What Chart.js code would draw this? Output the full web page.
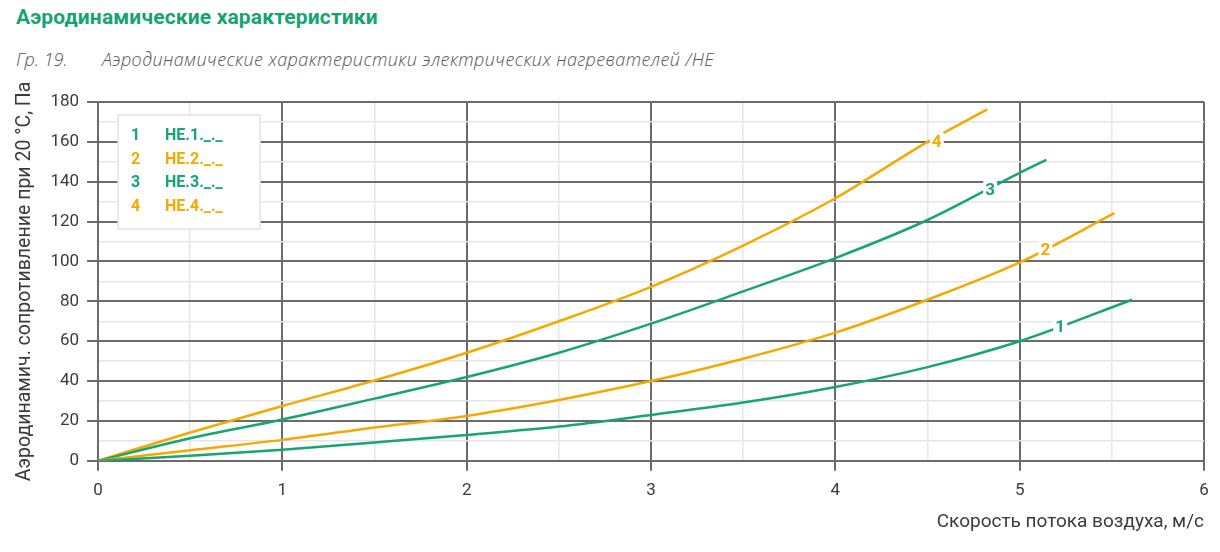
<!DOCTYPE html>
<html lang="ru">
<head>
  <meta charset="UTF-8">
  <title>Аэродинамические характеристики</title>
  <script src="https://cdn.jsdelivr.net/npm/chart.js"></script>
  <style>
    body {
      margin: 0;
      background: #ffffff;
      width: 1220px;
      height: 552px;
      position: relative;
      overflow: hidden;
      font-family: Roboto, "Noto Sans", sans-serif;
    }

    .titulo {
      position: absolute;
      left: 16px;
      top: 5px;
      font-size: 21px;
      font-weight: bold;
      letter-spacing: 0.15px;
      color: #17a372;
    }

    .subtitulo {
      position: absolute;
      top: 47px;
      font-family: "Open Sans", sans-serif;
      font-style: italic;
      font-weight: 300;
      font-size: 18px;
      color: #555555;
    }

    .grafico {
      position: absolute;
      left: 0;
      top: 0;
      width: 1220px;
      height: 552px;
    }
  </style>
</head>
<body>
  <div class="titulo">Аэродинамические характеристики</div>
  <div class="subtitulo" style="left: 16px;">Гр. 19.</div>
  <div class="subtitulo" style="left: 102px; letter-spacing: 0.4px;">Аэродинамические характеристики электрических нагревателей /HE</div>

  <div class="grafico">
    <canvas id="grafico"></canvas>
  </div>

  <script>
    // valores (velocidad m/s -> presión Pa)
    const xHE1 = [0, 0.5, 1, 1.5, 2, 2.5, 3, 3.5, 4, 4.5, 5, 5.61];
    const yHE1 = [0, 2.5, 5.5, 9.2, 13, 17.2, 23, 29.2, 37, 47, 60, 80.8];

    const xHE2 = [0, 0.5, 1, 1.5, 2, 2.5, 3, 3.5, 4, 4.5, 5, 5.514];
    const yHE2 = [0, 5.3, 10.5, 16.7, 22.5, 30.5, 40, 51.2, 64.3, 80.8, 99.5, 124.2];

    const xHE3 = [0, 0.5, 1, 1.5, 2, 2.5, 3, 3.5, 4, 4.5, 5, 5.145];
    const yHE3 = [0, 11.3, 20.7, 31.2, 42, 54.2, 68.8, 85, 101.7, 120.8, 144.5, 151];

    const xHE4 = [0, 0.5, 1, 1.5, 2, 2.5, 3, 3.5, 4, 4.5, 4.824];
    const yHE4 = [0, 14.2, 27.5, 40.3, 54.2, 70, 87.3, 108, 131.7, 160, 176.3];

    const numeros = ['1', '2', '3', '4'];
    const modelos = ['HE.1._._', 'HE.2._._', 'HE.3._._', 'HE.4._._'];
    const colores = ['#15a672', '#f5a900', '#15a672', '#f5a900'];

    // posición de las etiquetas sobre las curvas (m/s, Pa)
    const etiquetaX = [5.22, 5.14, 4.84, 4.55];
    const etiquetaY = [67.5, 105.8, 136.2, 160.3];

    const ejeYTitulo = 'Аэродинамич. сопротивление при 20 °C, Па';
    const ejeXTitulo = 'Скорость потока воздуха, м/с';

    function puntos(xs, ys) {
      return xs.map((x, i) => ({ x: x, y: ys[i] }));
    }

    const series = [puntos(xHE1, yHE1), puntos(xHE2, yHE2), puntos(xHE3, yHE3), puntos(xHE4, yHE4)];

    const colorTexto = '#3b3b3b';
    const colorMayor = '#6b6b6b';
    const colorMenor = '#e6e6e6';

    const etiquetasCurvas = {
      id: 'etiquetasCurvas',
      afterDatasetsDraw(chart) {
        const ctx = chart.ctx;
        const sx = chart.scales.x;
        const sy = chart.scales.y;
        ctx.save();
        ctx.font = 'bold 17px Roboto';
        ctx.textAlign = 'center';
        ctx.textBaseline = 'middle';
        for (let i = 0; i < numeros.length; i++) {
          const px = sx.getPixelForValue(etiquetaX[i]);
          const py = sy.getPixelForValue(etiquetaY[i]);
          ctx.fillStyle = '#ffffff';
          ctx.fillRect(px - 7, py - 9, 14, 18);
          ctx.fillStyle = colores[i];
          ctx.fillText(numeros[i], px, py + 1);
        }
        ctx.restore();
      }
    };

    const leyendaCaja = {
      id: 'leyendaCaja',
      afterDatasetsDraw(chart) {
        const ctx = chart.ctx;
        const area = chart.chartArea;
        const x0 = area.left + 20;
        const y0 = area.top + 13;
        ctx.save();
        ctx.fillStyle = '#ffffff';
        ctx.fillRect(x0, y0, 142, 114);
        ctx.strokeStyle = '#e2e2e2';
        ctx.lineWidth = 1.5;
        ctx.strokeRect(x0, y0, 142, 114);
        ctx.font = 'bold 16px Roboto';
        ctx.textBaseline = 'middle';
        ctx.textAlign = 'left';
        for (let i = 0; i < modelos.length; i++) {
          const fy = y0 + 21 + i * 23.5;
          ctx.fillStyle = colores[i];
          ctx.fillText(numeros[i], x0 + 13, fy);
          ctx.fillText(modelos[i], x0 + 47, fy);
        }
        ctx.restore();
      }
    };

    const ctx = document.getElementById('grafico').getContext('2d');

    new Chart(ctx, {
      type: 'line',
      data: {
        datasets: series.map((datos, i) => ({
          label: modelos[i],
          data: datos,
          borderColor: colores[i],
          borderWidth: 2.5,
          pointRadius: 0,
          fill: false,
          cubicInterpolationMode: 'monotone'
        }))
      },
      options: {
        responsive: true,
        maintainAspectRatio: false,
        animation: false,
        layout: { padding: { top: 102, right: 16, bottom: 14, left: 9 } },
        plugins: {
          legend: { display: false },
          tooltip: { enabled: false }
        },
        scales: {
          x: {
            type: 'linear',
            min: 0,
            max: 6,
            border: { color: colorMayor, width: 2 },
            grid: {
              color: c => Number.isInteger(c.tick.value) ? colorMayor : colorMenor,
              lineWidth: c => Number.isInteger(c.tick.value) ? 2 : 1.5,
              tickColor: c => Number.isInteger(c.tick.value) ? colorMayor : 'rgba(0,0,0,0)',
              tickLength: 10
            },
            ticks: {
              stepSize: 0.5,
              autoSkip: false,
              maxRotation: 0,
              padding: 10,
              color: colorTexto,
              font: { family: 'Roboto', size: 17 },
              callback: v => Number.isInteger(v) ? v : ''
            },
            title: {
              display: true,
              text: ejeXTitulo,
              align: 'end',
              color: colorTexto,
              font: { family: 'Roboto', size: 19 },
              padding: { top: 0, bottom: 4 }
            }
          },
          y: {
            min: 0,
            max: 180,
            border: { color: colorMayor, width: 2 },
            grid: {
              color: c => c.tick.value % 20 === 0 ? colorMayor : colorMenor,
              lineWidth: c => c.tick.value % 20 === 0 ? 2 : 1.5,
              tickColor: c => c.tick.value % 20 === 0 ? colorMayor : 'rgba(0,0,0,0)',
              tickLength: 11
            },
            ticks: {
              stepSize: 10,
              autoSkip: false,
              padding: 8,
              color: colorTexto,
              font: { family: 'Roboto', size: 17 },
              callback: v => v % 20 === 0 ? v : ''
            },
            title: {
              display: true,
              text: ejeYTitulo,
              color: colorTexto,
              font: { family: 'Roboto', size: 19.5 },
              padding: { top: 4, bottom: 6 }
            }
          }
        }
      },
      plugins: [etiquetasCurvas, leyendaCaja]
    });
  </script>
</body>
</html>
